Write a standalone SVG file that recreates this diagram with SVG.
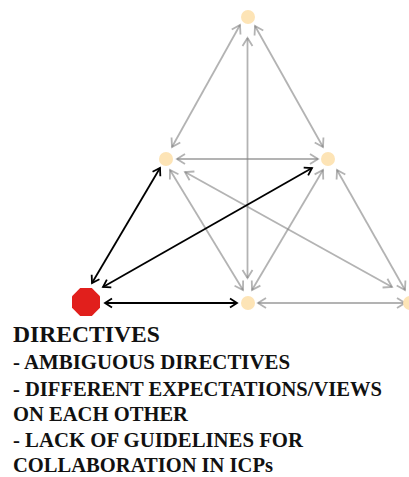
<svg xmlns="http://www.w3.org/2000/svg" width="409" height="477" viewBox="0 0 409 477">
<style>
.g{stroke:#808080;stroke-opacity:0.6;stroke-width:1.8;fill:none;marker-start:url(#ag);marker-end:url(#ag)}
.b{stroke:#000;stroke-width:1.8;fill:none;marker-start:url(#ab);marker-end:url(#ab)}
.n{fill:#fde4b6}
.t{font-family:"Liberation Serif",serif;font-weight:bold;fill:#111}
</style>
<defs>
<marker id="ag" markerUnits="userSpaceOnUse" viewBox="-10 -7 12 14" markerWidth="12" markerHeight="14" refX="0" refY="0" orient="auto-start-reverse">
<path d="M-8,-5 L0,0 L-8,5" fill="none" stroke="#808080" stroke-opacity="0.6" stroke-width="1.8"/>
</marker>
<marker id="ab" markerUnits="userSpaceOnUse" viewBox="-10 -7 12 14" markerWidth="12" markerHeight="14" refX="0" refY="0" orient="auto-start-reverse">
<path d="M-7,-4.5 L0,0 L-7,4.5" fill="none" stroke="#000" stroke-width="1.8"/>
</marker>
</defs>
<g id="connectors">
<line class="g" x1="240" y1="25" x2="172" y2="147"/>
<line class="g" x1="255" y1="26" x2="323" y2="147"/>
<line class="g" x1="247.5" y1="38" x2="247.5" y2="278"/>
<line class="g" x1="177" y1="159" x2="318" y2="159"/>
<line class="g" x1="170" y1="170" x2="243" y2="290"/>
<line class="g" x1="185" y1="172" x2="392" y2="287"/>
<line class="g" x1="323" y1="170" x2="252" y2="290"/>
<line class="g" x1="337" y1="170" x2="405" y2="290"/>
<line class="g" x1="258" y1="303" x2="405" y2="303"/>
<line class="b" x1="92" y1="283" x2="160" y2="168"/>
<line class="b" x1="103" y1="287" x2="312" y2="168"/>
<line class="b" x1="105" y1="303" x2="237" y2="303"/>
</g>
<g id="node-top"><circle class="n" cx="248" cy="17" r="7"/></g>
<g id="node-left"><circle class="n" cx="166" cy="159" r="7"/></g>
<g id="node-right"><circle class="n" cx="328" cy="159" r="7"/></g>
<g id="node-bottom-center"><circle class="n" cx="248" cy="303" r="7"/></g>
<g id="node-bottom-right"><circle class="n" cx="410" cy="303" r="7"/></g>
<g id="node-directives">
<polygon fill="#e11f1c" points="100,307.8 91.8,316 80.2,316 72,307.8 72,296.2 80.2,288 91.8,288 100,296.2"/>
<text class="t" x="13" y="342" font-size="23" textLength="147" lengthAdjust="spacingAndGlyphs">DIRECTIVES</text>
<text class="t" x="13" y="369" font-size="20.5" textLength="277" lengthAdjust="spacingAndGlyphs">- AMBIGUOUS DIRECTIVES</text>
<text class="t" x="13" y="396" font-size="20.5" textLength="369" lengthAdjust="spacingAndGlyphs">- DIFFERENT EXPECTATIONS/VIEWS</text>
<text class="t" x="13" y="421" font-size="20.5" textLength="175" lengthAdjust="spacingAndGlyphs">ON EACH OTHER</text>
<text class="t" x="13" y="447" font-size="20.5" textLength="290" lengthAdjust="spacingAndGlyphs">- LACK OF GUIDELINES FOR</text>
<text class="t" x="13" y="472" font-size="20.5" textLength="260" lengthAdjust="spacingAndGlyphs">COLLABORATION IN ICPs</text>
</g>
</svg>
